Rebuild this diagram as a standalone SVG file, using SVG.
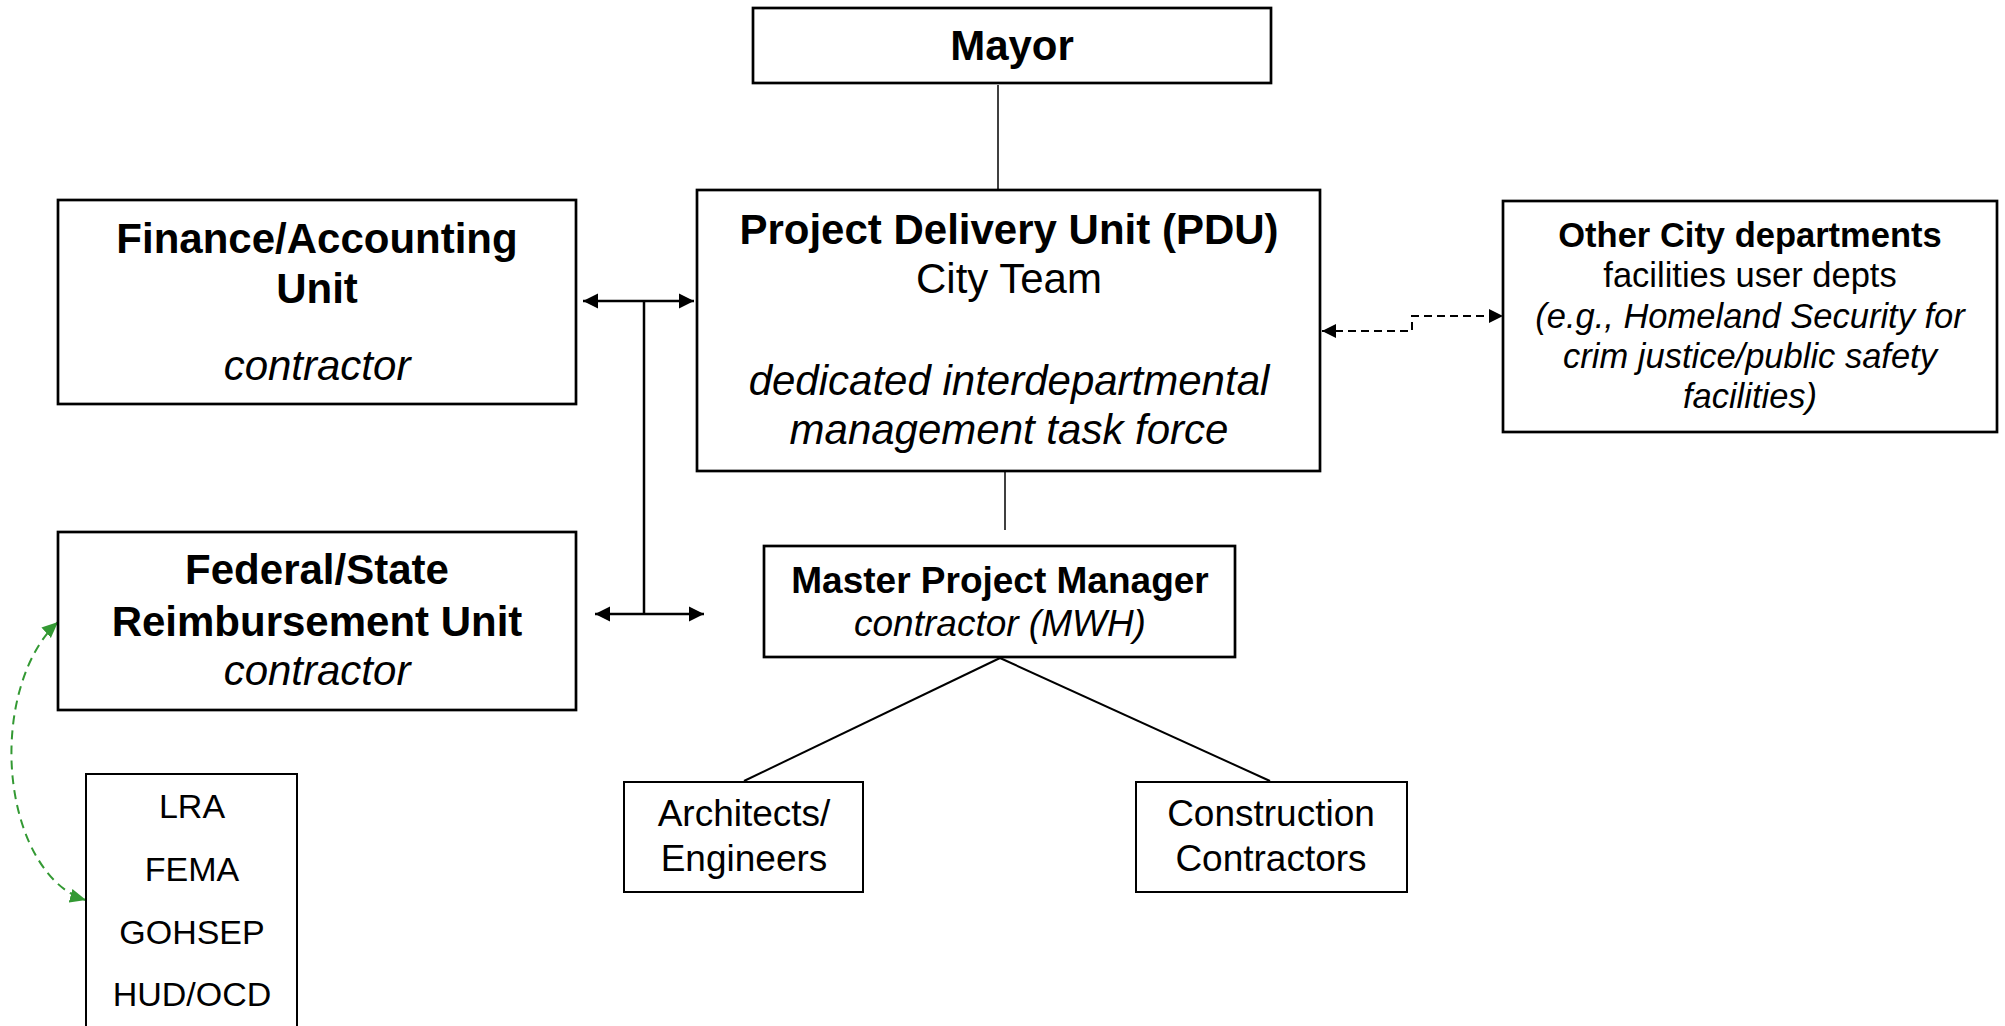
<svg xmlns="http://www.w3.org/2000/svg" width="2005" height="1026" viewBox="0 0 2005 1026">
<style>
.box{fill:#fff;stroke:#000;stroke-width:2.7}
.thin{fill:#fff;stroke:#000;stroke-width:2}
text{font-family:"Liberation Sans",Arial,sans-serif;fill:#000;text-anchor:middle}
.b42{font-size:42px;font-weight:bold}
.r42{font-size:42px}
.i42{font-size:42px;font-style:italic}
.b37{font-size:37px;font-weight:bold}
.r37{font-size:37px}
.i37{font-size:37px;font-style:italic}
.b34{font-size:34.5px;font-weight:bold}
.r33{font-size:34.5px}
.i33{font-size:34.5px;font-style:italic}
.r34{font-size:34px}
.ln{fill:none;stroke:#000}
</style>
<defs>
<marker id="ah" markerUnits="userSpaceOnUse" markerWidth="16" markerHeight="16" refX="15" refY="8" orient="auto-start-reverse"><path d="M0,0.5 L15,8 L0,15.5 z" fill="#000"/></marker>
<marker id="ahs" markerUnits="userSpaceOnUse" markerWidth="15" markerHeight="15" refX="14" refY="7" orient="auto-start-reverse"><path d="M0,0 L14,7 L0,14 z" fill="#000"/></marker>
<marker id="ahg" markerUnits="userSpaceOnUse" markerWidth="17" markerHeight="15" refX="16" refY="7" orient="auto-start-reverse"><path d="M0,0 L16,7 L0,14 z" fill="#339933"/></marker>
</defs>
<rect width="2005" height="1026" fill="#fff"/>
<g id="connectors">
<line class="ln" x1="998" y1="85" x2="998" y2="190" stroke-width="1.5"/>
<line class="ln" x1="1005" y1="472" x2="1005" y2="530" stroke-width="1.5"/>
<line class="ln" x1="583" y1="301" x2="694" y2="301" stroke-width="2.5" marker-start="url(#ah)" marker-end="url(#ah)"/>
<line class="ln" x1="644" y1="301" x2="644" y2="614" stroke-width="2.5"/>
<line class="ln" x1="595" y1="614" x2="704" y2="614" stroke-width="2.5" marker-start="url(#ah)" marker-end="url(#ah)"/>
<path class="ln" d="M1322,331 H1412 V316 H1503" stroke-width="2" stroke-dasharray="8,5" marker-start="url(#ahs)" marker-end="url(#ahs)"/>
<line class="ln" x1="1000" y1="658" x2="744" y2="781" stroke-width="2"/>
<line class="ln" x1="1000" y1="658" x2="1270" y2="781" stroke-width="2"/>
<path d="M58,622 A89,149 0 0,0 86,900" fill="none" stroke="#339933" stroke-width="2" stroke-dasharray="9,6" marker-start="url(#ahg)" marker-end="url(#ahg)"/>
</g>
<g id="mayor">
<rect class="box" x="753" y="8" width="518" height="75"/>
<text class="b42" x="1012" y="60">Mayor</text>
</g>
<g id="pdu">
<rect class="box" x="697" y="190" width="623" height="281"/>
<text class="b42" x="1009" y="244">Project Delivery Unit (PDU)</text>
<text class="r42" x="1009" y="293">City Team</text>
<text class="i42" x="1009" y="395">dedicated interdepartmental</text>
<text class="i42" x="1009" y="444">management task force</text>
</g>
<g id="finance">
<rect class="box" x="58" y="200" width="518" height="204"/>
<text class="b42" x="317" y="253">Finance/Accounting</text>
<text class="b42" x="317" y="303">Unit</text>
<text class="i42" x="317" y="380">contractor</text>
</g>
<g id="federal">
<rect class="box" x="58" y="532" width="518" height="178"/>
<text class="b42" x="317" y="584">Federal/State</text>
<text class="b42" x="317" y="636">Reimbursement Unit</text>
<text class="i42" x="317" y="685">contractor</text>
</g>
<g id="other">
<rect class="box" x="1503" y="201" width="494" height="231"/>
<text class="b34" x="1750" y="247">Other City departments</text>
<text class="r33" x="1750" y="287">facilities user depts</text>
<text class="i33" x="1750" y="328">(e.g., Homeland Security for</text>
<text class="i33" x="1750" y="368">crim justice/public safety</text>
<text class="i33" x="1750" y="408">facilities)</text>
</g>
<g id="mpm">
<rect class="box" x="764" y="546" width="471" height="111"/>
<text class="b37" x="1000" y="593">Master Project Manager</text>
<text class="i37" x="1000" y="636">contractor (MWH)</text>
</g>
<g id="architects">
<rect class="thin" x="624" y="782" width="239" height="110"/>
<text class="r37" x="744" y="826">Architects/</text>
<text class="r37" x="744" y="871">Engineers</text>
</g>
<g id="construction">
<rect class="thin" x="1136" y="782" width="271" height="110"/>
<text class="r37" x="1271" y="826">Construction</text>
<text class="r37" x="1271" y="871">Contractors</text>
</g>
<g id="agencies">
<rect class="thin" x="86" y="774" width="211" height="262"/>
<text class="r34" x="192" y="818">LRA</text>
<text class="r34" x="192" y="881">FEMA</text>
<text class="r34" x="192" y="944">GOHSEP</text>
<text class="r34" x="192" y="1006">HUD/OCD</text>
</g>
</svg>
